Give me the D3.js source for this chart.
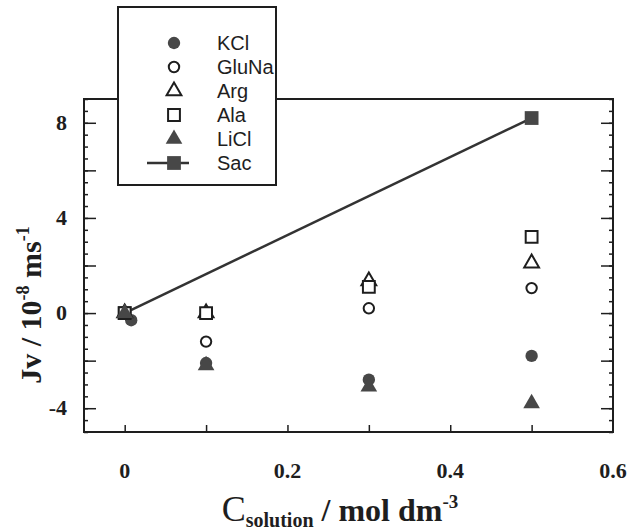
<!DOCTYPE html>
<html>
<head>
<meta charset="utf-8">
<script src="https://cdn.jsdelivr.net/npm/d3@7"></script>
<style>
  body { margin: 0; background: #fff; }
  svg { display: block; }
</style>
</head>
<body>
<div id="chart"></div>
<script>
// concentrations (mol dm-3) and Jv values (10^-8 m s^-1)
const kclX = [0.008, 0.1, 0.3, 0.5]
const kcl = [-0.3, -2.1, -2.8, -1.8]
const concX = [0, 0.1, 0.3, 0.5]
const gluNa = [0, -1.2, 0.2, 1.05]
const arg = [0, 0, 1.35, 2.1]
const ala = [0, 0, 1.1, 3.2]
const licl = [0, -2.2, -3.1, -3.8]
const sacX = [0, 0.5]
const sac = [0, 8.2]

const xTickLabels = [0, 0.2, 0.4, 0.6]
const yTickLabels = [-4, 0, 4, 8]
const legendNames = ['KCl', 'GluNa', 'Arg', 'Ala', 'LiCl', 'Sac']

const W = 629, H = 532
const svg = d3.select('#chart').append('svg')
  .attr('width', W)
  .attr('height', H)

const x = d3.scaleLinear().domain([-0.05, 0.6]).range([84, 613])
const y = d3.scaleLinear().domain([-5, 9]).range([432, 99])

const ink = '#1e1e1e'
const markFill = '#474747'
const serif = 'Liberation Serif'

// frame
svg.append('rect')
  .attr('x', x.range()[0]).attr('y', y.range()[1])
  .attr('width', x.range()[1] - x.range()[0])
  .attr('height', y.range()[0] - y.range()[1])
  .attr('fill', 'none').attr('stroke', ink).attr('stroke-width', 2)

// inward ticks, left & right
const yMinor = d3.range(-5, 9.01, 0.5)
const yMajor = d3.range(-4, 9, 2)
svg.append('g').attr('transform', `translate(${x.range()[0]},0)`)
  .call(d3.axisRight(y).tickValues(yMinor).tickSize(4).tickFormat(''))
svg.append('g').attr('transform', `translate(${x.range()[0]},0)`)
  .call(d3.axisRight(y).tickValues(yMajor).tickSize(12).tickFormat(''))
svg.append('g').attr('transform', `translate(${x.range()[1]},0)`)
  .call(d3.axisLeft(y).tickValues(yMinor).tickSize(4).tickFormat(''))
svg.append('g').attr('transform', `translate(${x.range()[1]},0)`)
  .call(d3.axisLeft(y).tickValues(yMajor).tickSize(12).tickFormat(''))
// bottom ticks
svg.append('g').attr('transform', `translate(0,${y.range()[0]})`)
  .call(d3.axisTop(x).tickValues(d3.range(0, 0.55, 0.1)).tickSize(7).tickFormat(''))
svg.selectAll('.domain').remove()
svg.selectAll('.tick line').attr('stroke', ink).attr('stroke-width', 1.5)

// tick labels
svg.append('g').selectAll('text').data(xTickLabels).join('text')
  .attr('x', d => x(d)).attr('y', 478)
  .attr('text-anchor', 'middle')
  .attr('font-family', serif).attr('font-weight', 'bold')
  .attr('font-size', 22).attr('fill', ink)
  .text(d => d)
svg.append('g').selectAll('text').data(yTickLabels).join('text')
  .attr('x', 67).attr('y', d => y(d) + 7)
  .attr('text-anchor', 'end')
  .attr('font-family', serif).attr('font-weight', 'bold')
  .attr('font-size', 22).attr('fill', ink)
  .text(d => d)

// axis titles
const xt = svg.append('text')
  .attr('x', 340).attr('y', 521)
  .attr('text-anchor', 'middle')
  .attr('font-family', serif).attr('font-weight', 'bold')
  .attr('font-size', 32).attr('fill', ink)
xt.append('tspan').attr('font-weight', 'normal').attr('font-size', 36).text('C')
xt.append('tspan').attr('font-size', 20).attr('dy', 6).text('solution')
xt.append('tspan').attr('dy', -6).text(' / mol dm')
xt.append('tspan').attr('font-size', 19).attr('dy', -13).text('-3')

const yt = svg.append('text')
  .attr('transform', 'translate(41,305) rotate(-90)')
  .attr('text-anchor', 'middle')
  .attr('font-family', serif).attr('font-weight', 'bold')
  .attr('font-size', 30).attr('fill', ink)
yt.append('tspan').text('Jv / 10')
yt.append('tspan').attr('font-size', 18).attr('dy', -12).text('-8')
yt.append('tspan').attr('dy', 12).text(' ms')
yt.append('tspan').attr('font-size', 18).attr('dy', -12).text('-1')

// series
const sym = (type, size) => d3.symbol().type(type).size(size)
const series = [
  { xs: kclX, ys: kcl, path: sym(d3.symbolCircle, 120)(), fill: markFill, stroke: 'none' },
  { xs: concX, ys: gluNa, path: sym(d3.symbolCircle, 85)(), fill: '#fff', stroke: ink },
  { xs: concX, ys: arg, path: sym(d3.symbolTriangle, 95)(), fill: '#fff', stroke: ink },
  { xs: concX, ys: ala, path: sym(d3.symbolSquare, 140)(), fill: '#fff', stroke: ink },
  { xs: concX, ys: licl, path: sym(d3.symbolTriangle, 120)(), fill: markFill, stroke: 'none' },
  { xs: sacX, ys: sac, path: sym(d3.symbolSquare, 190)(), fill: markFill, stroke: 'none' }
]

// Sac line under everything
svg.append('path')
  .datum(d3.zip(sacX, sac))
  .attr('d', d3.line().x(d => x(d[0])).y(d => y(d[1])))
  .attr('fill', 'none').attr('stroke', '#333').attr('stroke-width', 2.5)

const drawOrder = [5, 0, 1, 2, 3, 4]
drawOrder.forEach(i => {
  const s = series[i]
  svg.append('g').selectAll('path').data(d3.zip(s.xs, s.ys)).join('path')
    .attr('transform', d => `translate(${x(d[0])},${y(d[1])})`)
    .attr('d', s.path)
    .attr('fill', s.fill).attr('stroke', s.stroke).attr('stroke-width', 2)
})

// legend box
const lg = svg.append('g')
lg.append('rect')
  .attr('x', 118).attr('y', 7).attr('width', 158).attr('height', 178)
  .attr('fill', '#fff').attr('stroke', ink).attr('stroke-width', 2)
const rowY = d3.scalePoint().domain(legendNames).range([43, 163])
legendNames.forEach((name, i) => {
  const s = series[i]
  const ry = rowY(name)
  if (name === 'Sac') {
    lg.append('line').attr('x1', 147).attr('x2', 189).attr('y1', ry).attr('y2', ry)
      .attr('stroke', '#333').attr('stroke-width', 2.5)
  }
  lg.append('path')
    .attr('transform', `translate(174,${ry})`)
    .attr('d', s.path)
    .attr('fill', s.fill).attr('stroke', s.stroke).attr('stroke-width', 2)
  lg.append('text')
    .attr('x', 217).attr('y', ry + 7)
    .attr('font-family', 'Liberation Sans').attr('font-size', 20)
    .attr('fill', ink)
    .text(name)
})
</script>
</body>
</html>
